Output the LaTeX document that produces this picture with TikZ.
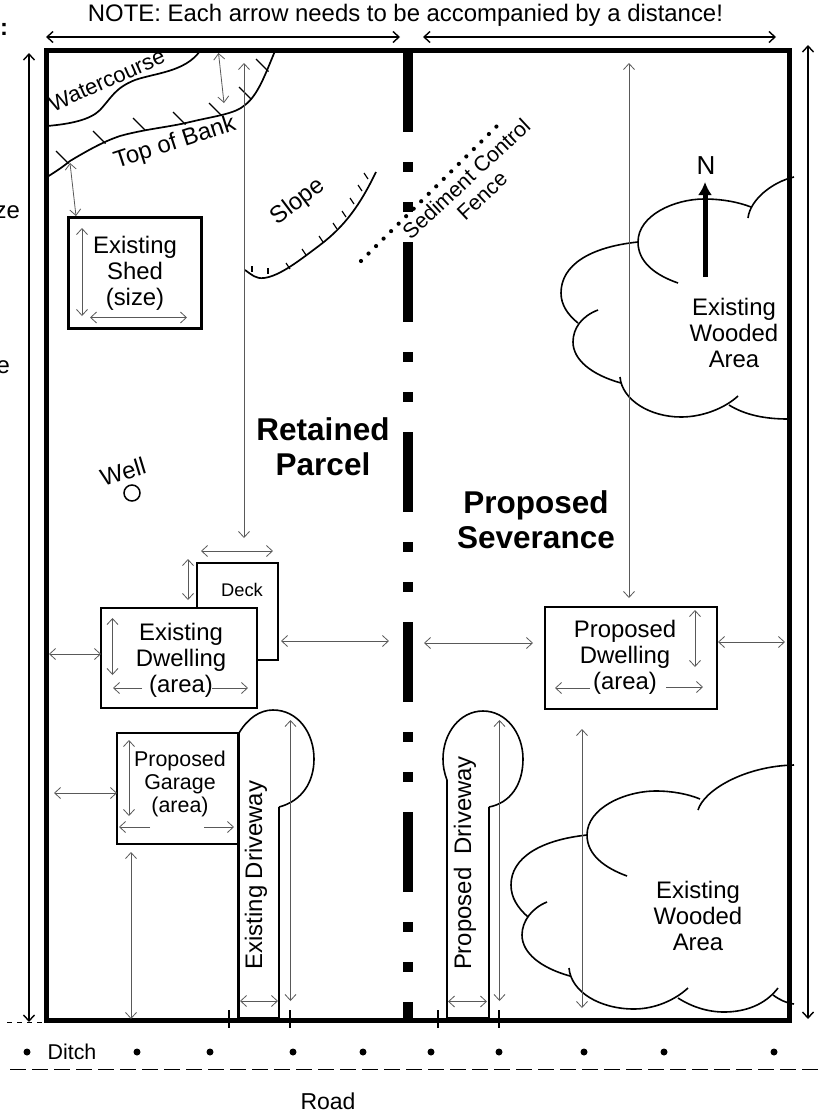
\documentclass[tikz,border=0pt]{standalone}
\usepackage{fontspec}
\setmainfont{Liberation Sans}
\usetikzlibrary{arrows.meta}
\tikzset{
  bigtext/.style={font=\fontsize{23.9}{26}\selectfont,align=center},
  midtext/.style={font=\fontsize{21.4}{23}\selectfont,align=center},
  boldtext/.style={font=\fontsize{31.5}{35}\selectfont\bfseries,align=center},
  bldg/.style={draw,line width=2.6pt,fill=white,inner sep=0pt},
  dimline/.style={<->,line width=0.8pt,black!65},
  dimone/.style={->,line width=0.8pt,black!65},
  sizeline/.style={<->,line width=1.4pt},
  bank/.style={line width=1.7pt},
  cloudline/.style={line width=1.6pt},
  drive/.style={line width=2.6pt}
}
\begin{document}
\begin{tikzpicture}[x=1pt,y=-1pt,>={Straight Barb[length=6pt,width=11pt]}]
  \useasboundingbox (0,0) rectangle (822,1114);
  % clipped side notes
  \node[bigtext,anchor=east] (notecut) at (11.5,29) {\textbf{:}};
  \node[bigtext,anchor=east] (sizecut) at (23.5,212) {ze};
  \node[bigtext,anchor=east] (severcut) at (13.5,367) {e};
  \node[bigtext] (note) at (405.5,15) {NOTE: Each arrow needs to be accompanied by a distance!};
  % overall dimensions
  \draw[sizeline] (46,37) -- (400,37);
  \draw[sizeline] (423,37) -- (776,37);
  \draw[sizeline] (29,53) -- (29,1022);
  \draw[sizeline] (808,45) -- (808,1019);
  \draw[line width=0.7pt,dash pattern=on 5pt off 5pt] (7,1022.5) -- (93,1022.5);
  % lot and severance line
  \draw[line width=5pt,line join=miter] (46,50) rectangle (789,1020);
  \draw[line width=10pt,dash pattern=on 80pt off 30pt on 10pt off 30pt on 10pt off 30pt] (408,52) -- (408,1020);
  % watercourse and bank
  \draw[bank] (47,126) .. controls (70,124) and (90,120) .. (100,110)
    .. controls (112,97) and (115,88) .. (135,80)
    .. controls (155,73) and (185,72) .. (200,51);
  \draw[bank] (47,177) .. controls (60,169) and (65,165) .. (70,161)
    .. controls (90,149) and (105,141) .. (120,136)
    .. controls (145,129) and (170,127) .. (190,122)
    .. controls (215,116) and (235,114) .. (245,105)
    .. controls (258,95) and (265,75) .. (275,51);
  \foreach \x/\y in {56/151,93/131,133/118,173/112,209/103,239/87,256/59}
    \draw[line width=1.3pt] (\x,\y) -- +(12.5,12.5);
  \node[bigtext,font=\fontsize{22}{24}\selectfont,rotate=24] (water) at (107,80) {Watercourse};
  \node[bigtext,rotate=18] (topbank) at (175,143) {Top of Bank};
  % slope
  \draw[bank] (245,270) .. controls (252,275) and (256,279) .. (264,278)
    .. controls (280,276) and (300,260) .. (320,245)
    .. controls (345,226) and (360,205) .. (376,172);
  \foreach \x/\y in {252/266,268/268}
    \draw[line width=1.2pt] (\x,\y) -- +(0,6);
  \foreach \x/\y in {286/263,302/249,319/236,333/223,342/211,350/198,358/185,364/173}
    \draw[line width=1.2pt] (\x,\y) -- +(4,6);
  \node[bigtext,rotate=37] (slope) at (298,202) {Slope};
  % fence
  \draw[line width=4.2pt,line cap=round,dash pattern=on 0pt off 10.6pt] (361,261) -- (498,125);
  \node[midtext,rotate=43] (fence) at (474,187) {Sediment Control\\Fence};
  % clouds
  \draw[cloudline] (678,283) .. controls (655,275) and (638,262) .. (638,242)
    .. controls (638,215) and (675,199) .. (704,199)
    .. controls (722,199) and (738,202) .. (751,207);
  \draw[cloudline] (748,218) .. controls (750,200) and (772,182) .. (794,177);
  \draw[cloudline] (638,242) .. controls (590,247) and (561,265) .. (561,293)
    .. controls (561,305) and (568,315) .. (578,323);
  \draw[cloudline] (598,310) .. controls (582,316) and (573,328) .. (573,342)
    .. controls (573,360) and (592,375) .. (621,383);
  \draw[cloudline] (620,377) .. controls (622,400) and (650,417) .. (681,417)
    .. controls (703,417) and (725,408) .. (738,396);
  \draw[cloudline] (729,405) .. controls (745,415) and (765,419) .. (788,419);
  \draw[cloudline] (627,876) .. controls (605,868) and (587,855) .. (587,835)
    .. controls (587,808) and (625,791) .. (656,791)
    .. controls (672,791) and (688,794) .. (700,799);
  \draw[cloudline] (698,810) .. controls (704,790) and (745,766) .. (794,765);
  \draw[cloudline] (587,835) .. controls (540,840) and (511,858) .. (511,885)
    .. controls (511,898) and (518,908) .. (528,917);
  \draw[cloudline] (547,902) .. controls (532,908) and (522,921) .. (522,935)
    .. controls (522,953) and (541,968) .. (570,976);
  \draw[cloudline] (569,968) .. controls (571,992) and (600,1009) .. (634,1009)
    .. controls (655,1009) and (675,1000) .. (688,988);
  \draw[cloudline] (678,998) .. controls (692,1007) and (708,1012) .. (724,1012)
    .. controls (745,1012) and (765,1005) .. (778,988);
  \draw[cloudline] (773,995) .. controls (780,1000) and (786,1003) .. (794,1004);
  \node[bigtext] (woodtop) at (734,333) {Existing\\Wooded\\Area};
  \node[bigtext] (woodlow) at (698,916) {Existing\\Wooded\\Area};
  % north
  \draw[line width=5pt,-{Latex[length=13pt,width=14pt]}] (705,277) -- (705,182);
  \node[font=\fontsize{26}{28}\selectfont] (north) at (706,166) {N};
  % buildings
  \node[bldg,minimum width=133pt,minimum height=111pt,bigtext] (shed) at (135,273) {Existing\\Shed\\(size)};
  \node[bldg,minimum width=81pt,minimum height=97pt] (deck) at (237.5,611.5) {};
  \node[font=\fontsize{18.3}{20}\selectfont] (decktext) at (242,590) {Deck};
  \node[bldg,minimum width=156pt,minimum height=100pt] (dwelling) at (179,658) {};
  \node[bigtext] (dwelltext) at (181,660) {Existing\\Dwelling\\(area)};
  % driveways
  \draw[drive] (238.5,733) -- (238.5,1018) -- (279,1018) -- (279,807);
  \draw[cloudline] (239,733) .. controls (248,718) and (260,710) .. (273,710)
    .. controls (298,710) and (314,733) .. (314,759)
    .. controls (314,782) and (302,801) .. (279,807);
  \draw[drive] (447,780) -- (447,1018) -- (489,1018) -- (489,807);
  \draw[cloudline] (447,780) .. controls (444,772) and (443,766) .. (443,759)
    .. controls (443,733) and (460,711) .. (483,711)
    .. controls (506,711) and (523,733) .. (523,759)
    .. controls (523,785) and (510,803) .. (489,807);
  \node[bldg,minimum width=121pt,minimum height=111pt] (garage) at (177.5,788.5) {};
  \node[midtext] (garagetext) at (180,784) {Proposed\\Garage\\(area)};
  \node[bldg,minimum width=172pt,minimum height=102pt] (newhouse) at (631,658) {};
  \node[bigtext] (newhousetext) at (625,657) {Proposed\\Dwelling\\(area)};
  \node[bigtext,rotate=90] (olddrive) at (256,875) {Existing Driveway};
  \node[bigtext,rotate=90] (newdrive) at (465,863) {Proposed\ \ Driveway};
  % plain labels
  \node[boldtext] (retained) at (323,447) {Retained\\Parcel};
  \node[boldtext] (severance) at (536,520) {Proposed\\Severance};
  \node[bigtext,rotate=17] (welltext) at (123,472) {Well};
  \node[draw,circle,line width=1.5pt,minimum size=16pt,inner sep=0pt] (well) at (132,493) {};
  % distance arrows
  \draw[dimline] (244,63) -- (244,538);
  \draw[dimline] (218.5,53) -- (224,103);
  \draw[dimline] (70,163) -- (76,216);
  \draw[dimline] (82,228) -- (82,316);
  \draw[dimline] (90,317.5) -- (187,317.5);
  \draw[dimline] (201,551) -- (273,551);
  \draw[dimline] (188,559) -- (188,600);
  \draw[dimline] (49,654) -- (101,654);
  \draw[dimline] (112.5,618) -- (112.5,675);
  \draw[dimone] (142,688) -- (113,688);
  \draw[dimone] (212,688) -- (248,688);
  \draw[dimline] (281,641) -- (389,641);
  \draw[dimline] (129,740) -- (129,816);
  \draw[dimone] (150,827) -- (119,827);
  \draw[dimone] (204,827) -- (234,827);
  \draw[dimline] (54,793) -- (117,793);
  \draw[dimline] (131,852) -- (131,1019);
  \draw[dimline] (290.5,720) -- (290.5,1001);
  \draw[dimline] (240,1001) -- (278,1001);
  \draw[dimline] (424,643) -- (533,643);
  \draw[dimline] (629,63) -- (629,598);
  \draw[dimline] (695,610) -- (695,667);
  \draw[dimone] (590,688) -- (555,688);
  \draw[dimone] (666,687) -- (703,687);
  \draw[dimline] (718,642) -- (785,642);
  \draw[dimline] (582,729) -- (582,1008);
  \draw[dimline] (499.5,720) -- (499.5,1001);
  \draw[dimline] (448,1001.5) -- (487,1001.5);
  % road frontage
  \foreach \x in {229,290,438,499}
    \draw[line width=1.3pt] (\x,1010) -- (\x,1028);
  \foreach \x in {27,137,210,293,363,431,499,584,664,774}
    \fill (\x,1052) circle[radius=3.5];
  \node[midtext] (ditch) at (72,1052) {Ditch};
  \draw[line width=1.5pt,dash pattern=on 16pt off 6pt] (10,1069.5) -- (819,1069.5);
  \node[font=\fontsize{23}{26}\selectfont] (road) at (328,1101) {Road};
\end{tikzpicture}
\end{document}
